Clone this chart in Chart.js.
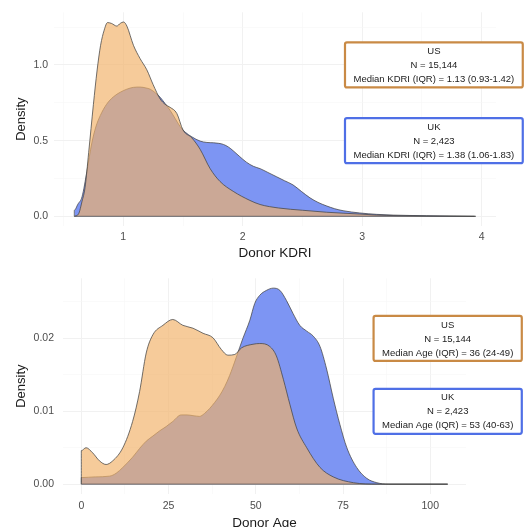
<!DOCTYPE html>
<html>
<head>
<meta charset="utf-8">
<script src="https://cdn.jsdelivr.net/npm/chart.js@4/dist/chart.umd.min.js"></script>
<style>
    html, body { margin: 0; padding: 0; background: #fff; overflow: hidden; }
    #wrap { position: relative; width: 525px; height: 527px; }
    canvas { position: absolute; left: 0; }
    #kdri { top: 0; }
    #age  { top: 263px; }
</style>
</head>
<body>
<div id="wrap">
    <canvas id="kdri" width="525" height="263"></canvas>
    <canvas id="age" width="525" height="270"></canvas>
</div>
<script>
// Donor KDRI density, [kdri, density]
const kdriUS = [
    [0.59,0],[0.625,0.015],[0.655,0.10],[0.68,0.19],[0.71,0.42],[0.75,0.74],[0.78,0.96],[0.81,1.13],
    [0.84,1.23],[0.868,1.28],[0.90,1.275],[0.946,1.257],[0.975,1.275],[1.002,1.284],[1.03,1.257],
    [1.085,1.13],[1.14,1.043],[1.197,0.968],[1.25,0.87],[1.309,0.775],[1.35,0.74],[1.392,0.72],
    [1.448,0.68],[1.50,0.57],[1.574,0.518],[1.643,0.443],[1.727,0.315],[1.81,0.23],[1.92,0.165],
    [2.06,0.105],[2.145,0.078],[2.3,0.055],[2.5,0.04],[2.7,0.027],[2.98,0.015],[3.1,0.009],
    [3.3,0.004],[3.6,0.001],[3.95,0]
];
const kdriUK = [
    [0.59,0],[0.59,0.04],[0.62,0.08],[0.655,0.13],[0.696,0.30],[0.737,0.486],[0.77,0.59],[0.807,0.665],
    [0.86,0.74],[0.918,0.79],[0.975,0.82],[1.03,0.84],[1.085,0.852],[1.141,0.854],[1.19,0.848],
    [1.225,0.84],[1.27,0.815],[1.309,0.786],[1.35,0.745],[1.392,0.70],[1.435,0.645],[1.476,0.593],
    [1.52,0.555],[1.574,0.525],[1.643,0.497],[1.70,0.488],[1.754,0.486],[1.80,0.482],[1.838,0.475],
    [1.88,0.458],[1.92,0.433],[1.97,0.398],[2.03,0.358],[2.09,0.33],[2.145,0.315],[2.21,0.29],
    [2.284,0.261],[2.35,0.235],[2.42,0.208],[2.49,0.165],[2.563,0.122],[2.63,0.092],[2.70,0.069],
    [2.77,0.05],[2.84,0.037],[2.98,0.022],[3.12,0.013],[3.26,0.008],[3.54,0.004],[3.94,0]
];
const kdriRange = [0.59, 3.95];

// Donor age density, [age, density]
const ageUS = [
    [0,0],[0,0.0046],[1.35,0.0050],[3.25,0.0043],[5.2,0.0032],[7.1,0.0027],[9.0,0.0032],[11.9,0.0050],
    [14.7,0.0086],[16.7,0.0127],[18.6,0.0180],[20.5,0.0205],[23.4,0.0218],[26.2,0.0226],[29.1,0.0218],
    [32.0,0.0214],[34.9,0.0207],[37.7,0.0201],[40.1,0.0185],[42.0,0.0177],[44.0,0.0178],[45.9,0.0187],
    [49.2,0.0192],[51.1,0.0193],[54.0,0.0189],[55.9,0.0176],[57.9,0.0144],[59.8,0.0109],[61.7,0.0077],
    [64.6,0.0050],[68.4,0.0023],[72.2,0.0010],[78,0.0002],[85,0],[105,0]
];
const ageUK = [
    [0,0],[0,0.0009],[4,0.0010],[8.1,0.0011],[10,0.0015],[11.9,0.0023],[14.7,0.0037],[16.7,0.0049],
    [18.6,0.0059],[20.5,0.0066],[22.4,0.0073],[24.3,0.0079],[26.2,0.0086],[28.6,0.0095],[30.3,0.0095],
    [32.0,0.0094],[33.9,0.0093],[35.3,0.0097],[36.8,0.0104],[38.2,0.0112],[39.7,0.0122],[41.1,0.0134],
    [42.5,0.0149],[44.4,0.0174],[46.3,0.0200],[48.3,0.0225],[49.7,0.0248],[51.1,0.0259],[53.1,0.0266],
    [55.0,0.0269],[56.9,0.0266],[58.8,0.0252],[60.7,0.0234],[62.6,0.0218],[64.6,0.0210],[66.5,0.0203],
    [68.4,0.0189],[70.3,0.0158],[72.2,0.0118],[74.1,0.0082],[76.1,0.0050],[78.9,0.0023],[81.8,0.0008],
    [84.7,0.0002],[88,0],[105,0]
];
const ageRange = [0, 105];

// ticks
const kdriXMajor = [1, 2, 3, 4];
const kdriXMinor = [0.5, 1.5, 2.5, 3.5];
const kdriYMajor = [0, 0.5, 1.0];
const kdriYLabels = ['0.0', '0.5', '1.0'];
const kdriYMinor = [0.25, 0.75, 1.25];
const ageXMajor = [0, 25, 50, 75, 100];
const ageXMinor = [12.5, 37.5, 62.5, 87.5];
const ageYMajor = [0, 0.01, 0.02];
const ageYLabels = ['0.00', '0.01', '0.02'];
const ageYMinor = [0.005, 0.015, 0.025];

// label boxes (anchored in data units)
const groups = ['US', 'UK'];
const groupN = ['N = 15,144', 'N = 2,423'];
const kdriStats = ['Median KDRI (IQR) = 1.13 (0.93-1.42)', 'Median KDRI (IQR) = 1.38 (1.06-1.83)'];
const ageStats  = ['Median Age (IQR) = 36 (24-49)', 'Median Age (IQR) = 53 (40-63)'];
const kdriBoxX = [3.6, 3.6];
const kdriBoxY = [1.0, 0.5];
const ageBoxX  = [105, 105];
const ageBoxY  = [0.02, 0.01];

const FILL_US   = 'rgba(242,178,104,0.67)';
const FILL_UK   = 'rgb(125,149,243)';
const BORDER_US = '#c98a45';
const BORDER_UK = '#4f6fe6';
const OUTLINE   = 'rgba(70,70,70,0.85)';
const GRID      = '#f1f1f1';
const GRID_MIN  = '#f7f7f7';

Chart.defaults.font.family = "'Liberation Sans', Arial, Helvetica, sans-serif";

const toXY = arr => arr.map(([x, y]) => ({ x, y }));

function tickSetter(major, minor) {
    return scale => {
        scale.ticks = [...major, ...minor].sort((a, b) => a - b).map(v => ({ value: v }));
    };
}

function isIn(list, v) {
    return list.some(m => Math.abs(m - v) < 1e-9);
}

const boxPlugin = (xs, ys, stats) => ({
    id: 'boxes',
    afterDraw(chart) {
        const { ctx } = chart;
        const sx = chart.scales.x, sy = chart.scales.y;
        ctx.save();
        ctx.font = "9.5px 'Liberation Sans', Arial, sans-serif";
        ctx.textAlign = 'center';
        ctx.textBaseline = 'middle';
        groups.forEach((g, i) => {
            const lines = [g, groupN[i], stats[i]];
            const w = Math.max(...lines.map(l => ctx.measureText(l).width)) + 17;
            const h = 45;
            const cx = sx.getPixelForValue(xs[i]);
            const cy = sy.getPixelForValue(ys[i]);
            const x0 = cx - w / 2, y0 = cy - h / 2;
            ctx.beginPath();
            ctx.roundRect(x0, y0, w, h, 2);
            ctx.fillStyle = '#fff';
            ctx.fill();
            ctx.lineWidth = 2.2;
            ctx.strokeStyle = i === 0 ? BORDER_US : BORDER_UK;
            ctx.stroke();
            ctx.fillStyle = '#222';
            lines.forEach((l, k) => ctx.fillText(l, cx, y0 + 9 + k * 14));
        });
        ctx.restore();
    }
});

function makeChart(el, cfg) {
    const ds = (data, fill, order) => ({
        data: toXY(data),
        backgroundColor: fill,
        borderColor: OUTLINE,
        borderWidth: 0.9,
        fill: fill ? 'origin' : false,
        pointRadius: 0,
        cubicInterpolationMode: 'monotone',
        order
    });

    return new Chart(el, {
        type: 'line',
        data: {
            datasets: [
                ds(cfg.us, FILL_US, 1),
                ds(cfg.uk, FILL_UK, 2),
                ds([[cfg.range[0], 0], [cfg.range[1], 0]], null, 0)
            ]
        },
        options: {
            responsive: false,
            animation: false,
            layout: { padding: { top: cfg.padTop, right: cfg.padRight, left: 0, bottom: 0 } },
            plugins: { legend: { display: false }, tooltip: { enabled: false } },
            scales: {
                x: {
                    type: 'linear',
                    min: cfg.xMin,
                    max: cfg.xMax,
                    afterBuildTicks: tickSetter(cfg.xMajor, cfg.xMinor),
                    afterFit: s => { s.height = cfg.xHeight; },
                    border: { display: false },
                    grid: {
                        drawTicks: false,
                        color: c => isIn(cfg.xMajor, c.tick.value) ? GRID : GRID_MIN,
                        lineWidth: c => isIn(cfg.xMajor, c.tick.value) ? 1 : 0.6
                    },
                    ticks: {
                        padding: cfg.xTickPad,
                        color: '#4d4d4d',
                        font: { size: 10.5 },
                        maxRotation: 0,
                        autoSkip: false,
                        callback: v => isIn(cfg.xMajor, v) ? String(v) : ''
                    },
                    title: {
                        display: true,
                        text: cfg.xTitle,
                        color: '#1a1a1a',
                        font: { size: 13.5 },
                        padding: { top: 0, bottom: cfg.xTitlePad }
                    }
                },
                y: {
                    type: 'linear',
                    min: cfg.yMin,
                    max: cfg.yMax,
                    afterBuildTicks: tickSetter(cfg.yMajor, cfg.yMinor),
                    afterFit: s => { s.width = cfg.yWidth; },
                    border: { display: false },
                    grid: {
                        drawTicks: false,
                        color: c => isIn(cfg.yMajor, c.tick.value) ? GRID : GRID_MIN,
                        lineWidth: c => isIn(cfg.yMajor, c.tick.value) ? 1 : 0.6
                    },
                    ticks: {
                        padding: cfg.yTickPad,
                        color: '#4d4d4d',
                        font: { size: 10.5 },
                        autoSkip: false,
                        callback: v => {
                            const i = cfg.yMajor.findIndex(m => Math.abs(m - v) < 1e-9);
                            return i >= 0 ? cfg.yLabels[i] : '';
                        }
                    },
                    title: {
                        display: true,
                        text: 'Density',
                        color: '#1a1a1a',
                        font: { size: 13 },
                        padding: { top: 14, bottom: 0 }
                    }
                }
            }
        },
        plugins: [boxPlugin(cfg.boxX, cfg.boxY, cfg.stats)]
    });
}

makeChart(document.getElementById('kdri'), {
    us: kdriUS, uk: kdriUK, range: kdriRange,
    xMin: 0.42, xMax: 4.12, yMin: -0.064, yMax: 1.348,
    xMajor: kdriXMajor, xMinor: kdriXMinor,
    yMajor: kdriYMajor, yMinor: kdriYMinor, yLabels: kdriYLabels,
    xTitle: 'Donor KDRI',
    padTop: 6, padRight: 29, xHeight: 37, yWidth: 54,
    xTickPad: 5, yTickPad: 6, xTitlePad: 2,
    boxX: kdriBoxX, boxY: kdriBoxY, stats: kdriStats
});

makeChart(document.getElementById('age'), {
    us: ageUS, uk: ageUK, range: ageRange,
    xMin: -5.25, xMax: 110.25, yMin: -0.00135, yMax: 0.02825,
    xMajor: ageXMajor, xMinor: ageXMinor,
    yMajor: ageYMajor, yMinor: ageYMinor, yLabels: ageYLabels,
    xTitle: 'Donor Age',
    padTop: 11, padRight: 59, xHeight: 39, yWidth: 63,
    xTickPad: 6, yTickPad: 9, xTitlePad: 2,
    boxX: ageBoxX, boxY: ageBoxY, stats: ageStats
});
</script>
</body>
</html>
